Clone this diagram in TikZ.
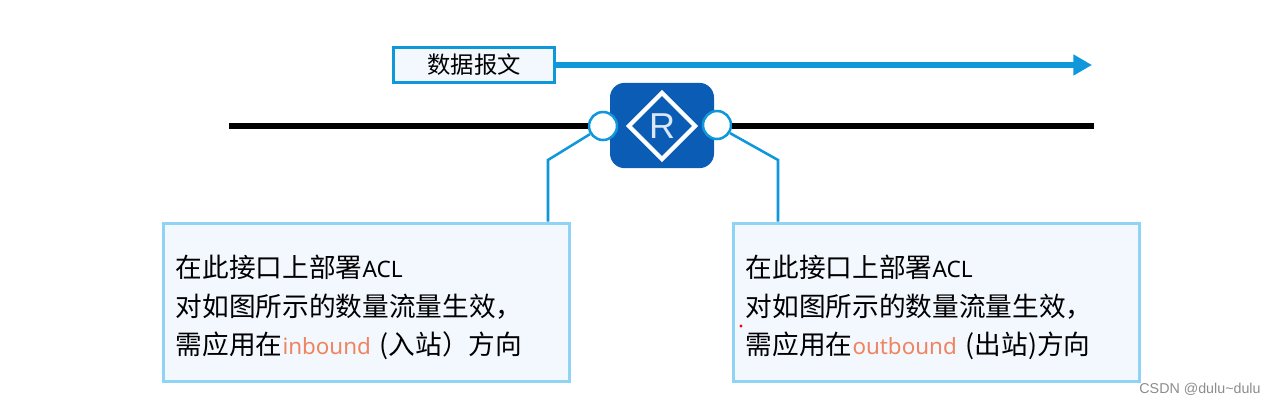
\documentclass[tikz,border=0pt]{standalone}
\usepackage{fontspec}
\setmainfont{Noto Sans CJK SC}
\newfontfamily\latinfont{Noto Sans}
\newfontfamily\routerfont{Liberation Sans}
\usetikzlibrary{shapes.geometric,arrows.meta,positioning}
\definecolor{linkblue}{HTML}{0F97DC}
\definecolor{edgeblue}{HTML}{8FD3F5}
\definecolor{paleblue}{HTML}{F3F8FF}
\definecolor{routerblue}{HTML}{0B5CB5}
\definecolor{accent}{HTML}{EF8560}
\newcommand{\acl}{{\latinfont\fontsize{17}{29}\selectfont ACL}}
\newcommand{\dirword}[1]{{\latinfont\fontsize{16.8}{29}\selectfont\textcolor{accent}{#1}}}
\tikzset{
  infobox/.style={rectangle, draw=edgeblue, fill=paleblue, line width=2.25pt, minimum width=305pt, minimum height=118.5pt, text width=286pt, align=left, inner sep=0pt, font=\fontsize{20}{29}\selectfont},
  databox/.style={rectangle, draw=linkblue, fill=paleblue, line width=2pt, minimum width=121pt, minimum height=26.5pt, inner sep=0pt, font=\fontsize{17.5}{20}\selectfont},
  router/.style={rectangle, rounded corners=11pt, fill=routerblue, minimum width=78pt, minimum height=64pt, inner sep=0pt},
  mark diamond/.style={diamond, draw=white, line width=3.2pt, minimum width=51pt, minimum height=51pt, inner sep=0pt, text=white!85!routerblue, font=\routerfont\fontsize{27}{27}\selectfont},
  port/.style={circle, draw=linkblue, fill=white, line width=1.9pt, minimum size=21pt, inner sep=0pt},
  wire/.style={line width=4pt, black},
  link/.style={line width=1.9pt, linkblue},
  arr/.style={-{Triangle[length=14pt,width=15pt]}, line width=4.5pt, linkblue}
}
\begin{document}
\begin{tikzpicture}[x=0.75pt,y=-0.75pt]
\useasboundingbox (0,0) rectangle (1275,404);

\node[databox] (data) at (474,65) {数据报文};
\coordinate (arrowend) at (1092,65);
\draw[arr] (data.east) -- (arrowend);

\coordinate (wireleft) at (229,126);
\coordinate (wireright) at (1094,126);
\node[router] (r) at (662,125.5) {};
\node[mark diamond] (rmark) at (662,126) {R};
\node[port] (lport) at (603,126) {};
\node[port] (rport) at (717,125) {};
\draw[wire] (wireleft) -- (lport.west);
\draw[wire] (rport.east |- wireright) -- (wireright);

\node[infobox] (lbox) at (366.5,302) {\rule{0pt}{25pt}在此接口上部署\acl\\对如图所示的数量流量生效，\\需应用在\dirword{inbound} (入站）方向};
\node[infobox] (rbox) at (936.5,302) {\rule{0pt}{25pt}在此接口上部署\acl\\对如图所示的数量流量生效，\\需应用在\dirword{outbound} (出站)方向};

\coordinate (lbend) at (548,160);
\coordinate (rbend) at (778,160);
\draw[link] (lport.-148) -- (lbend) -- (lbend |- lbox.north);
\draw[link] (rport.-32) -- (rbend) -- (rbend |- rbox.north);

\node[circle, fill=red, minimum size=2.4pt, inner sep=0pt] (speck) at (741,326) {};
\node[text=black!45, font=\routerfont\fontsize{10.7}{12}\selectfont] (credit) at (1200,389) {CSDN @dulu\textasciitilde dulu};
\end{tikzpicture}
\end{document}
